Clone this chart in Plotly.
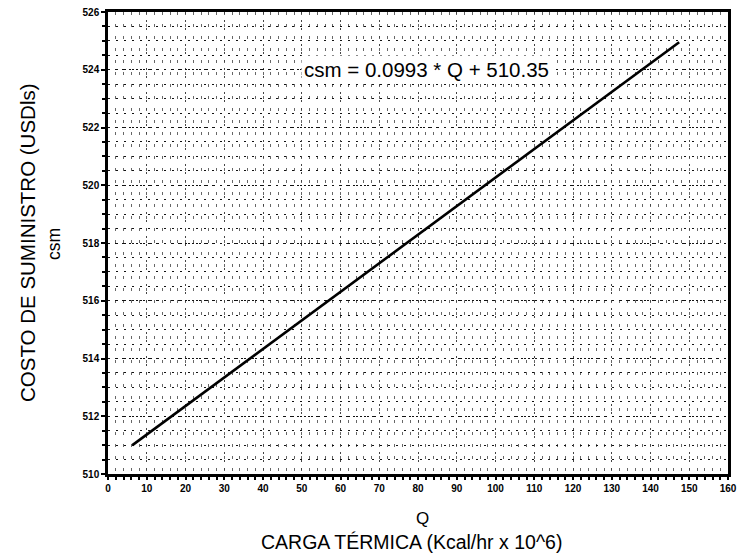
import plotly.graph_objects as go

# Data
q_vals = [6.3, 147.4]          # Q (carga térmica)
csm_vals = [511.0, 524.95]     # csm (costo de suministro)
equation_text = "csm = 0.0993 * Q + 510.35"
eq_pos = (82.3, 524.0)

x_ticks = list(range(0, 161, 10))
y_ticks = list(range(510, 527, 2))

FONT = "Liberation Sans, Arial, sans-serif"
L, R, T, B = 108, 14, 12, 83
W, H = 742, 557

fig = go.Figure()
fig.add_trace(go.Scatter(
    x=q_vals, y=csm_vals, mode="lines",
    line=dict(color="black", width=2.6),
    showlegend=False, hoverinfo="skip"))

fig.add_annotation(x=eq_pos[0], y=eq_pos[1], xref="x", yref="y",
                   text=equation_text, showarrow=False,
                   xanchor="center", yanchor="middle",
                   bgcolor="white", borderpad=2,
                   font=dict(family=FONT, size=20.5, color="black"))

fig.update_layout(
    width=W, height=H,
    margin=dict(l=L, r=R, t=T, b=B, autoexpand=False),
    paper_bgcolor="white", plot_bgcolor="white",
    font=dict(family=FONT, color="black"),
)

fig.update_xaxes(
    range=[0, 160], tickmode="array", tickvals=x_ticks,
    ticktext=[str(v) for v in x_ticks],
    tickfont=dict(family=FONT, size=10, weight="bold"),
    ticks="outside", ticklen=3, tickwidth=2, tickcolor="black",
    showline=True, linecolor="black", linewidth=2.5, mirror=True,
    showgrid=True, gridcolor="#444", griddash="2px,6px", gridwidth=1,
    minor=dict(dtick=2, tick0=0, ticks="outside", ticklen=3, tickwidth=2,
               tickcolor="black", showgrid=True, gridcolor="#666",
               griddash="3px,9px", gridwidth=1),
    zeroline=False,
)
fig.update_yaxes(
    range=[510, 526], tickmode="array", tickvals=y_ticks,
    ticktext=[str(v) for v in y_ticks],
    tickfont=dict(family=FONT, size=10, weight="bold"),
    ticks="outside", ticklen=4, tickwidth=2, tickcolor="black",
    showline=True, linecolor="black", linewidth=2.5, mirror=True,
    showgrid=True, gridcolor="#111", griddash="2px,5px", gridwidth=1,
    minor=dict(dtick=0.5, tick0=510, ticks="outside", ticklen=3, tickwidth=2,
               tickcolor="black", showgrid=True, gridcolor="#111",
               griddash="2px,6px", gridwidth=1),
    zeroline=False,
)

# Axis titles placed at pixel positions (converted to paper fractions)
plot_w = W - L - R
plot_h = H - T - B


def px(xp, yp):
    return (xp - L) / plot_w, ((H - yp) - B) / plot_h


for text, xp, yp, size, angle in [
    ("Q", 422, 518, 17, 0),
    ("CARGA TÉRMICA (Kcal/hr x 10^6)", 411, 542, 19.5, 0),
    ("COSTO DE SUMINISTRO (USDls)", 27, 243, 20.5, -90),
    ("csm", 54, 244, 17.5, -90),
]:
    ax, ay = px(xp, yp)
    fig.add_annotation(x=ax, y=ay, xref="paper", yref="paper", text=text,
                       textangle=angle, showarrow=False,
                       xanchor="center", yanchor="middle",
                       font=dict(family=FONT, size=size))

fig.write_html("out.html", config={"displayModeBar": False},
               post_script="document.body.style.margin='0px';document.body.style.overflow='hidden';")
